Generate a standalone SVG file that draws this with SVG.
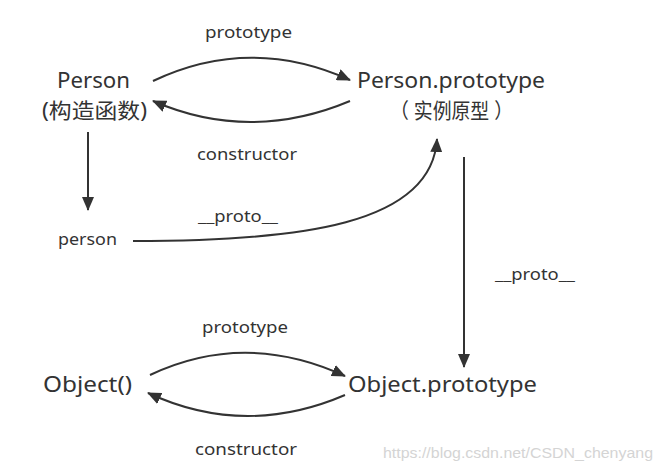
<svg xmlns="http://www.w3.org/2000/svg" width="662" height="470" viewBox="0 0 662 470">
<style>
text{font-family:"Noto Sans","Noto Sans CJK SC",sans-serif;fill:#333}
.n{font-size:21px}
.l{font-size:16.5px}
.c{stroke:#333;stroke-width:2;fill:none}
.w{font-family:"Liberation Sans",Arial,sans-serif;font-size:15px;fill:#d4d4d4}
</style>
<defs>
<marker id="a" markerWidth="14" markerHeight="12" refX="13" refY="6" orient="auto" markerUnits="userSpaceOnUse">
<path d="M0,0 L14,6 L0,12 Z" fill="#333"/>
</marker>
</defs>
<rect width="662" height="470" fill="#fff"/>
<g id="connectors">
<path class="c" marker-end="url(#a)" d="M153,81 Q250,35 350,80"/>
<path class="c" marker-end="url(#a)" d="M350,101 Q250,143 153,101"/>
<path class="c" marker-end="url(#a)" d="M88,132 L88,210"/>
<path class="c" marker-end="url(#a)" d="M133,241 C300,241 432,225 437,139"/>
<path class="c" marker-end="url(#a)" d="M464,157 L464,367"/>
<path class="c" marker-end="url(#a)" d="M150,375 Q245,330 345,376"/>
<path class="c" marker-end="url(#a)" d="M345,395 Q245,438 148,393"/>
</g>
<g id="Person"><text class="n" x="57" y="88" textLength="73" lengthAdjust="spacingAndGlyphs">Person</text><text class="n" x="42" y="118" textLength="105" lengthAdjust="spacingAndGlyphs">(构造函数)</text></g>
<g id="PersonPrototype"><text class="n" x="357" y="88" textLength="188" lengthAdjust="spacingAndGlyphs">Person.prototype</text><text class="n" x="390" y="118" textLength="123" lengthAdjust="spacingAndGlyphs">（ 实例原型 ）</text></g>
<g id="person"><text class="l" x="58" y="245" textLength="59" lengthAdjust="spacingAndGlyphs">person</text></g>
<g id="Object"><text class="n" x="43" y="392" textLength="89" lengthAdjust="spacingAndGlyphs">Object()</text></g>
<g id="ObjectPrototype"><text class="n" x="348" y="392" textLength="189" lengthAdjust="spacingAndGlyphs">Object.prototype</text></g>
<g id="labels">
<text class="l" x="205" y="38" textLength="87" lengthAdjust="spacingAndGlyphs">prototype</text>
<text class="l" x="197" y="160" textLength="100" lengthAdjust="spacingAndGlyphs">constructor</text>
<text class="l" x="198" y="222" textLength="80" lengthAdjust="spacingAndGlyphs">__proto__</text>
<text class="l" x="495" y="280" textLength="80" lengthAdjust="spacingAndGlyphs">__proto__</text>
<text class="l" x="202" y="333" textLength="86" lengthAdjust="spacingAndGlyphs">prototype</text>
<text class="l" x="195" y="455" textLength="102" lengthAdjust="spacingAndGlyphs">constructor</text>
<text class="w" x="383" y="458" textLength="270" lengthAdjust="spacingAndGlyphs">https://blog.csdn.net/CSDN_chenyang</text>
</g>
</svg>
